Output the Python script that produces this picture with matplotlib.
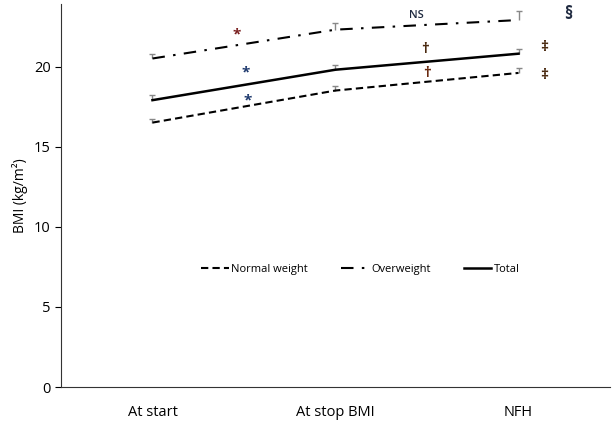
import matplotlib
matplotlib.use("Agg")
import matplotlib.pyplot as plt
import numpy as np

plt.rcParams['font.family'] = ['Open Sans', 'DejaVu Sans']

stages = ["At start", "At stop BMI", "NFH"]
normal = [16.5, 18.5, 19.6]
overweight = [20.5, 22.3, 22.9]
total = [17.9, 19.8, 20.8]
normal_err = [0.25, 0.3, 0.3]
overweight_err = [0.3, 0.4, 0.55]
total_err = [0.3, 0.3, 0.3]

# significance marks: (x, y, text, colour)
marks = [
    (0.46, 22.0, "*", "#7a2020"),
    (0.51, 19.6, "*", "#1f3a6e"),
    (0.52, 17.9, "*", "#1f3a6e"),
    (1.44, 23.2, "NS", "#1f2a40"),
    (1.49, 21.1, "\u2020", "#4a2a10"),
    (1.50, 19.6, "\u2020", "#6a2a10"),
    (2.27, 23.3, "\u00a7", "#1f2a40"),
    (2.14, 21.2, "\u2021", "#4a2a10"),
    (2.14, 19.5, "\u2021", "#4a2a10"),
]

fig = plt.figure(figsize=(6.14, 4.22), dpi=100)
ax = fig.add_axes([0.0993, 0.0829, 0.8942, 0.9076])
x = np.arange(len(stages))

# upper-only error bars ("T" shape)
for vals, errs in [(normal, normal_err), (overweight, overweight_err), (total, total_err)]:
    vals = np.array(vals)
    tops = vals + np.array(errs)
    ax.vlines(x, vals, tops, color='#888888', lw=1)
    ax.plot(x, tops, ls='none', marker='_', ms=5, mew=1, color='#888888')

ax.plot(x, normal, color='black', lw=1.5, dashes=(3.5, 2), label="Normal weight")
ax.plot(x, overweight, color='black', lw=1.5, dashes=(6, 4, 1.2, 4), label="Overweight")
ax.plot(x, total, color='black', lw=1.8, label="Total")

for mx, my, txt, c in marks:
    if txt == "NS":
        ax.text(mx, my, txt, color=c, ha='center', va='center', fontsize=8, fontweight='semibold')
    elif txt == "\u00a7":
        ax.text(mx, my, txt, color=c, ha='center', va='center', fontsize=12, fontweight='bold')
    else:
        ax.text(mx, my, txt, color=c, ha='center', va='center', fontsize=11, fontweight='bold')

ax.set_xlim(-0.5, 2.5)
ax.set_ylim(0, 23.9)
ax.set_xticks(x)
ax.set_xticklabels(stages, fontsize=10.5)
ax.set_yticks([0, 5, 10, 15, 20])
ax.tick_params(axis='y', labelsize=10.5, length=4, direction='out')
ax.tick_params(axis='x', length=0, pad=13)
ax.set_ylabel("BMI (kg/m\u00b2)", fontsize=10)
for s in ['top', 'right']:
    ax.spines[s].set_visible(False)
for s in ['left', 'bottom']:
    ax.spines[s].set_color('#333333')

ax.legend(loc='center', bbox_to_anchor=(0.545, 0.308), ncol=3, frameon=False,
          fontsize=8, handlelength=2.5, handletextpad=0.2, columnspacing=3.0)

fig.savefig("out.png", dpi=100)
